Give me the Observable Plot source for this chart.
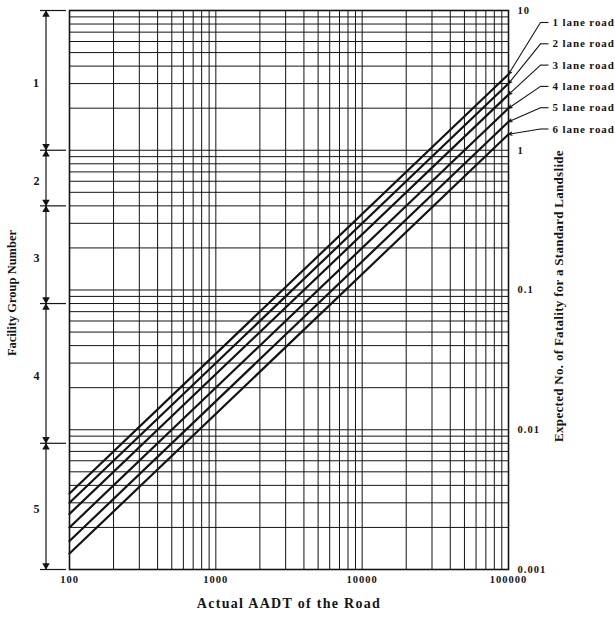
<!DOCTYPE html>
<html>
<head>
<meta charset="utf-8">
<script src="https://cdn.jsdelivr.net/npm/d3@7"></script>
<script src="https://cdn.jsdelivr.net/npm/@observablehq/plot@0.6"></script>
<style>
  body { margin: 0; background: #fff; }
  #chart svg { display: block; }
</style>
</head>
<body>
<div id="chart"></div>
<script>
// Horizontal axis: actual AADT of the road (log scale)
const aadtTicks = [100, 1000, 10000, 100000];
const aadtTickLabels = ["100", "1000", "10000", "100000"];

// Vertical axis: expected number of fatalities (log scale)
const fatalityTicks = [10, 1, 0.1, 0.01, 0.001];
const fatalityTickLabels = ["10", "1", "0.1", "0.01", "0.001"];

// Road curves: expected fatality at both ends of the AADT range
const roads = ["1 lane road", "2 lane road", "3 lane road", "4 lane road", "5 lane road", "6 lane road"];
const aadtRange = [100, 100000];
const fatalityAtLowAadt = [0.0035, 0.003, 0.0025, 0.002, 0.0016, 0.0013];
const fatalityAtHighAadt = [3.5, 3.0, 2.5, 2.0, 1.6, 1.3];

// Facility groups and the fatality band each one covers
const facilityGroups = ["1", "2", "3", "4", "5"];
const groupUpper = [10, 1, 0.4, 0.08, 0.008];
const groupLower = [1, 0.4, 0.08, 0.008, 0.001];

// Titles
const xTitle = "Actual AADT of the Road";
const yTitle = "Expected No. of Fatality for a Standard Landslide";
const groupTitle = "Facility Group Number";

// ---- layout ----
const W = 615, H = 630;
const M = {top: 10, right: 107, bottom: 61, left: 69};
const xDomain = [100, 100000];
const yDomain = [0.001, 10];

// Pixel helpers mirroring the plot's scales, used to place annotations in the margins
const xPix = d3.scaleLog(xDomain, [M.left, W - M.right]);
const yPix = d3.scaleLog(yDomain, [H - M.bottom, M.top]);

const bracketX = xPix.invert(45.5);
const bracketTick = [xPix.invert(40), xPix.invert(66)];
const groupLabelX = xPix.invert(36);
const legendTextX = xPix.invert(552);
const legendJoinX = xPix.invert(548);
const legendElbowX = xPix.invert(540);
const legendY = roads.map((_, i) => yPix.invert(22 + 21.3 * i));

// Grid at every 1..9 multiple of each decade
const gridX = d3.scaleLog(xDomain, [0, 1]).ticks();
const gridY = d3.scaleLog(yDomain, [0, 1]).ticks();

const curveRows = roads.flatMap((road, i) => [
  {road, aadt: aadtRange[0], fatality: fatalityAtLowAadt[i]},
  {road, aadt: aadtRange[1], fatality: fatalityAtHighAadt[i]}
]);

const legendRows = roads.map((road, i) => ({
  road, y: legendY[i], endX: aadtRange[1], endY: fatalityAtHighAadt[i]
}));

const groupRows = facilityGroups.map((g, i) => ({
  group: g, upper: groupUpper[i], lower: groupLower[i],
  mid: Math.sqrt(groupUpper[i] * groupLower[i])
}));
const boundaries = Array.from(new Set([...groupUpper, ...groupLower]));

const ink = "#141414";

const chart = Plot.plot({
  width: W,
  height: H,
  marginTop: M.top,
  marginRight: M.right,
  marginBottom: M.bottom,
  marginLeft: M.left,
  style: {fontFamily: '"Liberation Serif", "Times New Roman", serif', background: "#fff", color: ink},
  x: {type: "log", domain: xDomain, axis: null},
  y: {type: "log", domain: yDomain, axis: null},
  marks: [
    // log grid
    Plot.ruleX(gridX, {stroke: ink, strokeWidth: 1}),
    Plot.ruleY(gridY, {stroke: ink, strokeWidth: 1}),
    Plot.frame({stroke: ink, strokeWidth: 1.6}),

    // road curves
    Plot.line(curveRows, {x: "aadt", y: "fatality", z: "road", stroke: ink, strokeWidth: 2.2}),

    // tick labels
    Plot.axisX(aadtTicks, {
      anchor: "bottom", tickSize: 0, tickPadding: 6, label: null,
      fontSize: 10.5, fontWeight: "bold",
      tickFormat: d => aadtTickLabels[aadtTicks.indexOf(d)]
    }),
    Plot.axisY(fatalityTicks, {
      anchor: "right", tickSize: 0, tickPadding: 9, label: null,
      fontSize: 10.5, fontWeight: "bold",
      tickFormat: d => fatalityTickLabels[fatalityTicks.indexOf(d)]
    }),

    // axis titles
    Plot.text([xTitle], {frameAnchor: "bottom", dy: 38, fontSize: 14, fontWeight: "bold", fill: ink}),
    Plot.text([yTitle], {frameAnchor: "right", textAnchor: "middle", dx: 50, dy: 6, rotate: -90, fontSize: 13, fontWeight: "bold", fill: ink}),
    Plot.text([groupTitle], {frameAnchor: "left", textAnchor: "middle", dx: -58, dy: 3, rotate: -90, fontSize: 12.5, fontWeight: "bold", fill: ink}),

    // facility group bracket
    Plot.ruleX([bracketX], {y1: yDomain[0], y2: yDomain[1], stroke: ink, strokeWidth: 1.2}),
    Plot.ruleY(boundaries, {x1: bracketTick[0], x2: bracketTick[1], stroke: ink, strokeWidth: 1.2}),
    Plot.dot(groupRows, {x: bracketX, y: "upper", dy: 4, symbol: "triangle", r: 2.8, fill: ink, stroke: null}),
    Plot.dot(groupRows, {x: bracketX, y: "lower", dy: -4, rotate: 180, symbol: "triangle", r: 2.8, fill: ink, stroke: null}),
    Plot.text(groupRows, {x: groupLabelX, y: "mid", dy: 3, text: "group", fontSize: 12, fontWeight: "bold", fill: ink}),

    // legend with leader lines
    Plot.link(legendRows, {x1: legendJoinX, x2: legendElbowX, y1: "y", y2: "y", stroke: ink, strokeWidth: 1.1}),
    Plot.arrow(legendRows, {x1: legendElbowX, y1: "y", x2: "endX", y2: "endY", stroke: ink, strokeWidth: 1.1, headLength: 5, headAngle: 50}),
    Plot.text(legendRows, {x: legendTextX, y: "y", text: "road", textAnchor: "start", fontSize: 11, fontWeight: "bold", fill: ink})
  ]
});

// Widen the letter spacing of the typeset labels, matched by their text
const spacing = new Map([
  ...aadtTickLabels.map(t => [t, "1px"]),
  ...fatalityTickLabels.map(t => [t, "1px"]),
  ...roads.map(t => [t, "0.9px"]),
  [xTitle, "1.3px"],
  [yTitle, "0.3px"]
]);
d3.select(chart).selectAll("text").each(function () {
  const s = spacing.get(this.textContent);
  if (s) this.style.letterSpacing = s;
});

document.getElementById("chart").append(chart);
</script>
</body>
</html>
